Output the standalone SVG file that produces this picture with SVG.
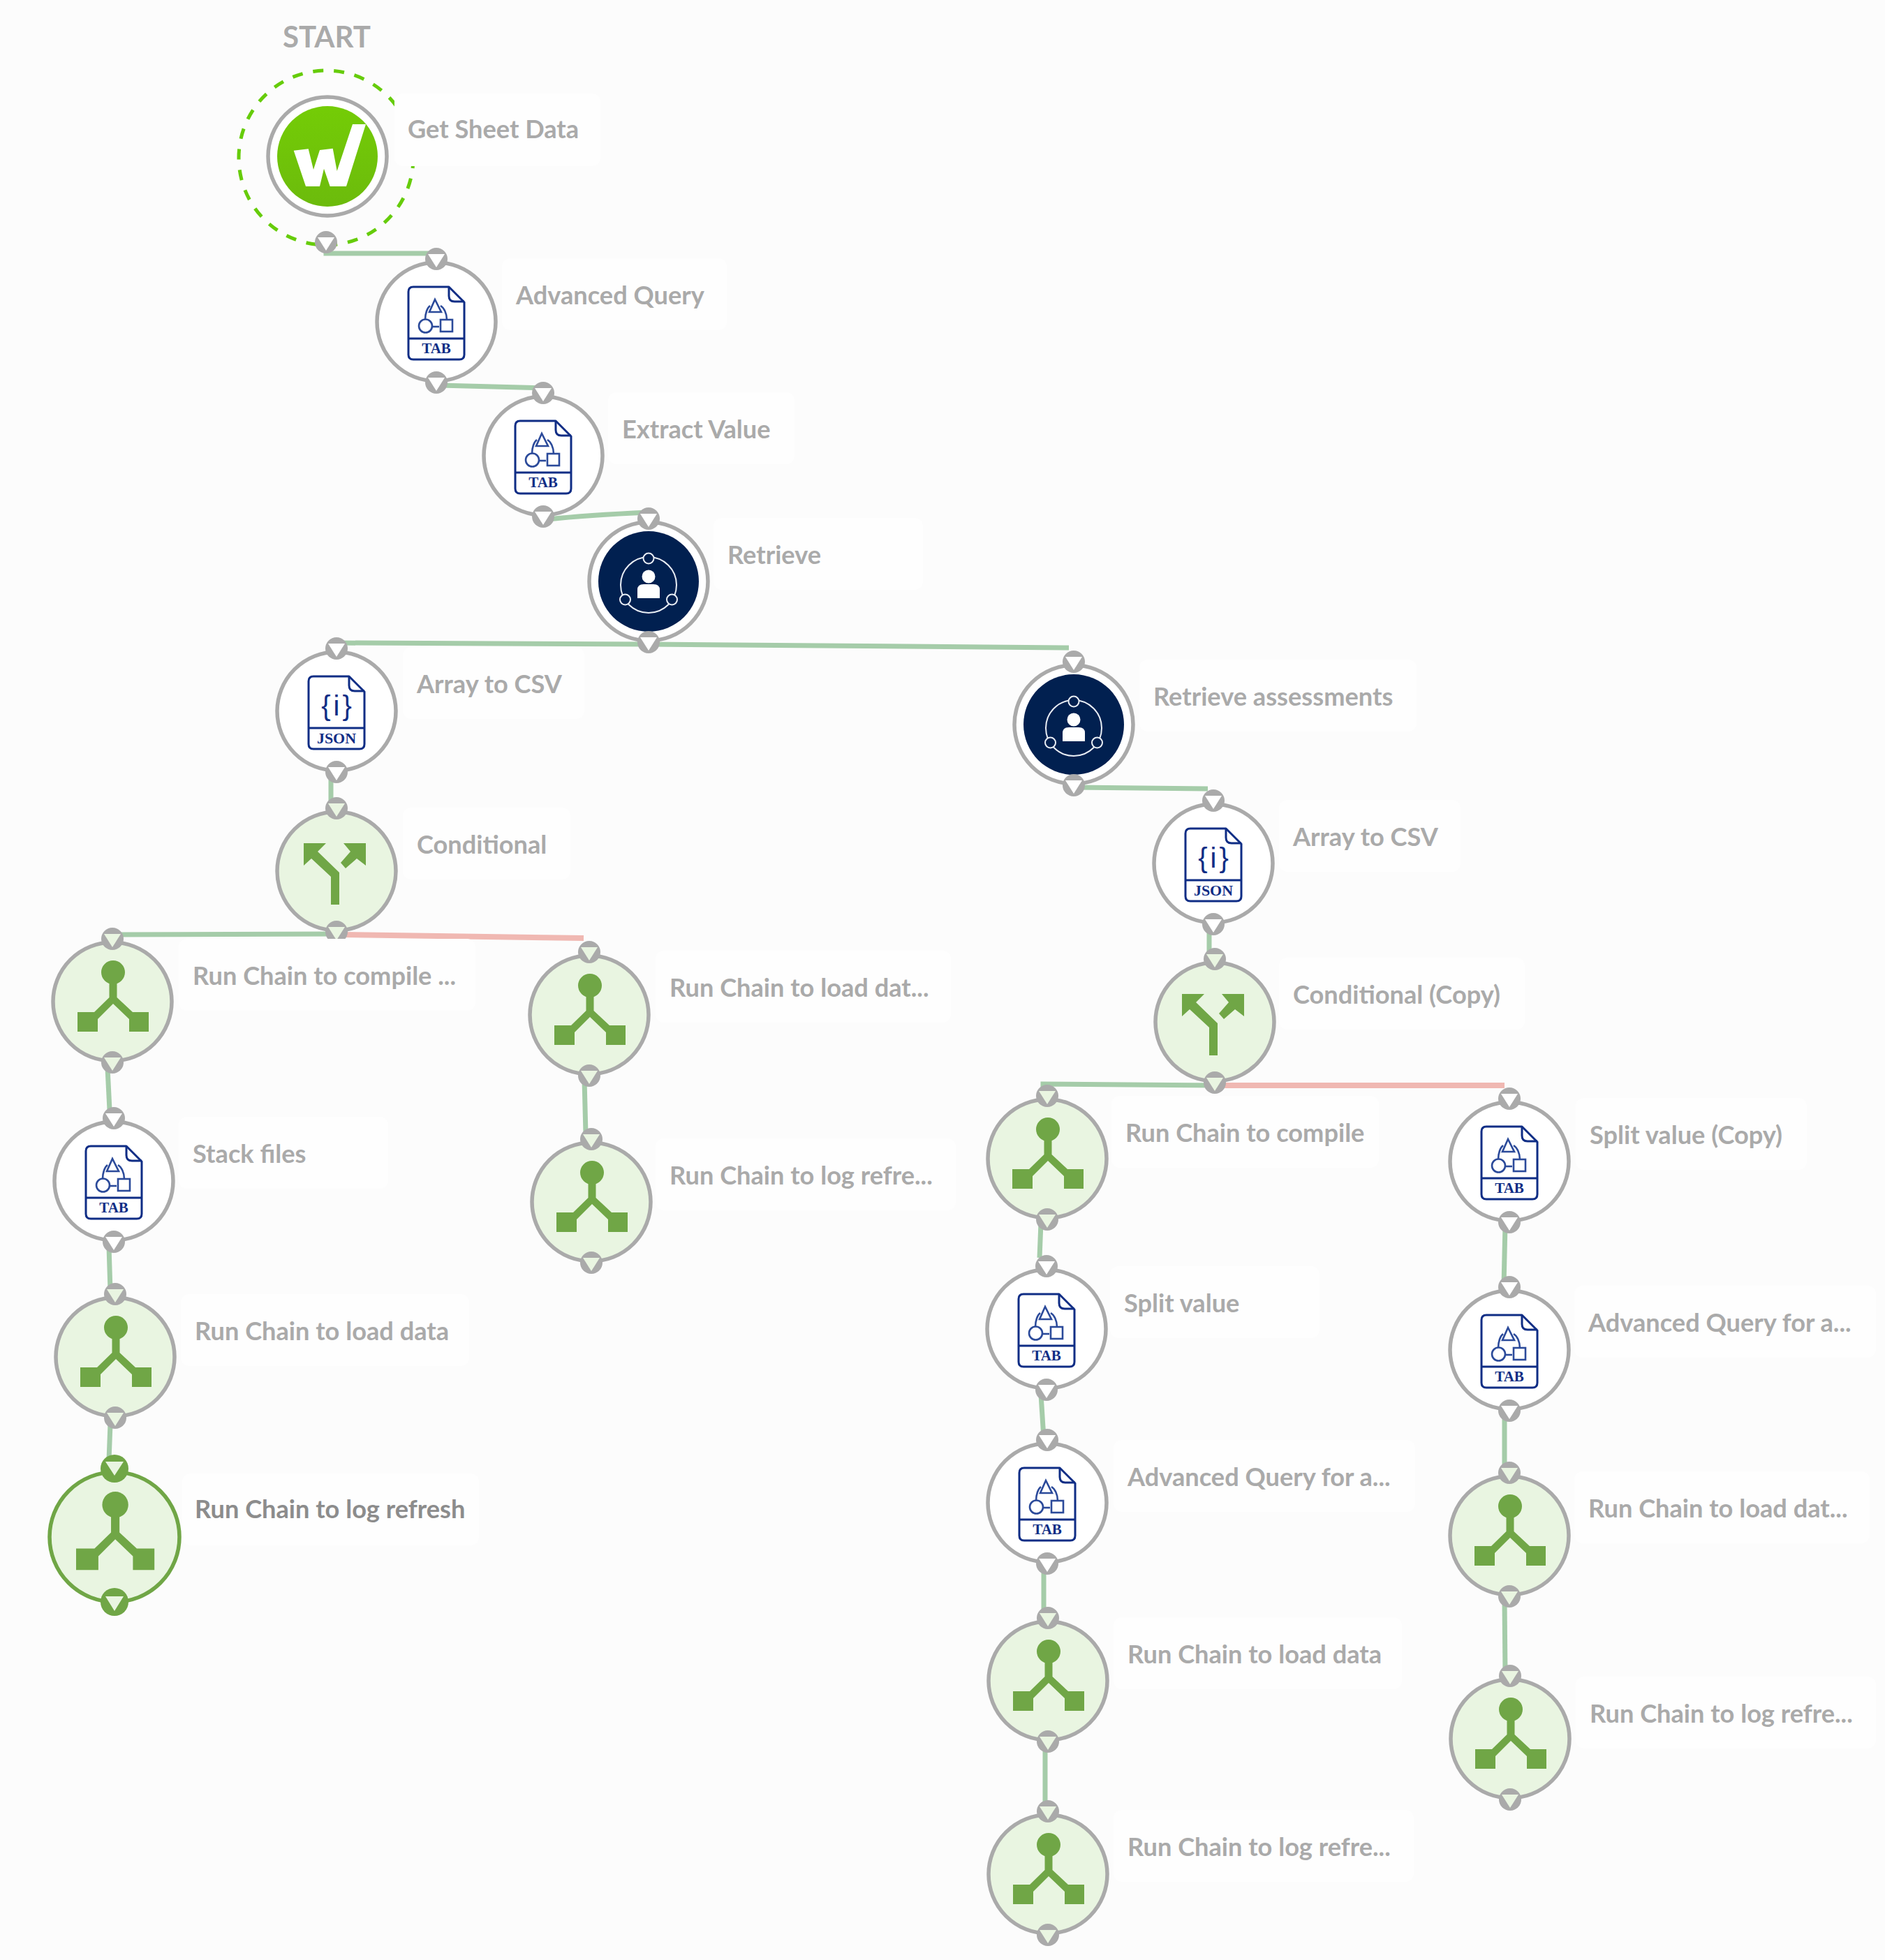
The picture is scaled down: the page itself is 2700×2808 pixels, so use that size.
<svg xmlns="http://www.w3.org/2000/svg" width="2700" height="2808" viewBox="0 0 2700 2808">
<style>
.ring{fill:#fff;stroke:#aaa;stroke-width:5.5}
.task{fill:#e9f5e1;stroke:#aaa;stroke-width:5.5}
.sel{fill:#e9f5e1;stroke:#70a646;stroke-width:5.5}
.lbl{font-family:Lato,"Liberation Sans",sans-serif;font-weight:700;font-size:36.2px;fill:#aaa}
.lb{fill:#fefefe}
.ft{font-family:"Liberation Serif",serif;font-weight:700;fill:#0f2d85;text-anchor:middle}
.ob{font-family:"Liberation Sans",sans-serif;font-weight:400;fill:#0f2d85;text-anchor:middle;letter-spacing:4px}
.ok{fill:none;stroke:#a5cca9;stroke-width:7}
.no{fill:none;stroke:#f0b8b2;stroke-width:8}
.pt{fill:#aaa}
.tw{fill:#fff}.tg{fill:#e9f5e1}
.doc{fill:none;stroke:#0f2d85;stroke-width:3;stroke-linejoin:round}
.thin{fill:none;stroke:#2b4a9a;stroke-width:2.6}
</style>
<defs>
<g id="doc">
<path class="doc" d="M-40,-43Q-40,-50 -33,-50L18,-50L40,-28L40,47Q40,54 33,54L-33,54Q-40,54 -40,47Z"/>
<path class="doc" d="M18,-50L18,-37Q18,-29 26,-29L40,-29"/>
<path class="doc" d="M-40,24L40,24"/>
</g>
<g id="tabglyph">
<path class="thin" d="M-2,-32L-10,-14L7,-14Z"/>
<path class="thin" d="M-16,-3C-16,-12 -13,-20 -9,-23M6,-23C11,-20 15,-12 15,-3"/>
<circle class="thin" cx="-15.500" cy="6" r="9.500"/>
<path class="thin" d="M-5,7L4,7"/>
<rect class="thin" x="6" y="-3" width="17" height="17"/>
</g>
<path id="chain" fill="#70a646" d="M-5.500,-30L-5.500,-6L-27,15L-51,15L-51,43L-22,43L-22,25L0,3L23,25L23,43L51,43L51,15L28,15L5.500,-6L5.500,-30Z"/>
<g id="chainfull"><g transform="translate(1,0)"><circle cx="0" cy="-42" r="17" fill="#70a646"/><use href="#chain"/></g></g>
<g id="cond" fill="#70a646">
<path d="M-47,-40L-15,-40L-27,-28L4,2L4,48L-8,48L-8,8L-36,-18L-47,-8Z"/>
<path d="M42,-40L10,-40L20,-28L6,-12L13,-4L29,-18L42,-8Z"/>
</g>
<g id="person">
<circle cx="0" cy="-7" r="9.500" fill="#fff"/>
<path fill="#fff" d="M-16,24L-16,12Q-16,4 -7,4L7,4Q16,4 16,12L16,24Z"/>
<circle cx="0" cy="5" r="40" fill="none" stroke="#e8edf4" stroke-width="2"/>
<g fill="#012050" stroke="#e8edf4" stroke-width="2"><circle cx="0" cy="-33" r="7.500"/><circle cx="-33.500" cy="26" r="7.500"/><circle cx="33.500" cy="26" r="7.500"/></g>
</g>
<path id="tri" d="M-12,-7L12,-7L0,12Z"/>
<g id="pw"><circle r="16" class="pt"/><use href="#tri" class="tw"/></g>
<g id="pg"><circle r="16" class="pt"/><use href="#tri" class="tg"/></g>
<linearGradient id="wg" x1="0" y1="0" x2="0" y2="1"><stop offset="0" stop-color="#74cc06"/><stop offset="1" stop-color="#6cbb0c"/></linearGradient>
</defs>
<rect width="2700" height="2808" fill="#fcfcfc"/>

<g id="connectors">
<path class="ok" d="M467,350L467,363L625,363"/>
<path class="ok" d="M630,552L778,556"/>
<path class="ok" d="M785,744Q840,738 929,734"/>
<path class="ok" d="M482,921L929,923L1531,928"/>
<path class="ok" d="M474,1110L474,1155"/>
<path class="ok" d="M482,1338L162,1339"/>
<path class="no" d="M490,1339L836,1344"/>
<path class="ok" d="M1538,1128L1730,1130"/>
<path class="ok" d="M1732,1330L1732,1372"/>
<path class="ok" d="M1741,1555L1494,1553L1494,1566"/>
<path class="no" d="M1741,1555L2155,1555"/>
<path class="ok" d="M154,1530L157,1590"/>
<path class="ok" d="M156,1785L158,1850"/>
<path class="ok" d="M158,2040L156,2092"/>
<path class="ok" d="M837,1546L839,1625"/>
<path class="ok" d="M1491,1752L1489,1802"/>
<path class="ok" d="M1491,1998L1495,2060"/>
<path class="ok" d="M1495,2245L1495,2318"/>
<path class="ok" d="M1497,2502L1497,2592"/>
<path class="ok" d="M2156,1755L2154,1842"/>
<path class="ok" d="M2155,2026L2155,2106"/>
<path class="ok" d="M2155,2292L2156,2398"/>
</g>

<text id="start" x="405" y="68" font-family="Lato,'Liberation Sans',sans-serif" font-weight="700" font-size="42" fill="#aaa">START</text>

<g id="n-get-sheet-data">
<circle cx="467" cy="226" r="125" fill="none" stroke="#66cc0a" stroke-width="5" stroke-dasharray="15 15"/>
<rect class="lb" x="565" y="134" width="295" height="104" rx="12"/>
<circle cx="469" cy="224" r="85" fill="#fff" stroke="#aaa" stroke-width="5.500"/>
<circle cx="469" cy="224" r="72" fill="url(#wg)"/>
<path fill="#fff" d="M420.700,215.700L441.700,213.300L449,243L458,215L476.700,212.700L482.700,245L505,178L524,178L496,267L472.700,267L464,241.700L458,267L438,267Z"/>
<use href="#pw" x="467" y="347"/>
<text class="lbl" x="584" y="198">Get Sheet Data</text>
</g>

<g id="n-advanced-query" transform="translate(625,461)"><circle class="ring" r="85"/><use href="#doc"/><use href="#tabglyph"/><text class="ft" y="45" font-size="21">TAB</text><use href="#pw" y="-90"/><use href="#pw" y="87"/><rect class="lb" x="94" y="-91" width="322" height="103" rx="12"/><text class="lbl" x="114" y="-25">Advanced Query</text></g>
<g id="n-extract-value" transform="translate(778,653)"><circle class="ring" r="85"/><use href="#doc"/><use href="#tabglyph"/><text class="ft" y="45" font-size="21">TAB</text><use href="#pw" y="-90"/><use href="#pw" y="87"/><rect class="lb" x="93" y="-91" width="267" height="103" rx="12"/><text class="lbl" x="113" y="-25">Extract Value</text></g>
<g id="n-retrieve" transform="translate(929,833)"><circle class="ring" r="85"/><circle r="72" fill="#012050"/><use href="#person"/><use href="#pw" y="-90"/><use href="#pw" y="87"/><rect class="lb" x="93" y="-91" width="300" height="103" rx="12"/><text class="lbl" x="113" y="-25">Retrieve</text></g>
<g id="n-array-csv-1" transform="translate(482,1019)"><circle class="ring" r="85"/><use href="#doc"/><text class="ob" x="2" y="6" font-size="40">{i}</text><text class="ft" y="46" font-size="22">JSON</text><use href="#pw" y="-90"/><use href="#pw" y="87"/><rect class="lb" x="95" y="-92" width="260" height="103" rx="12"/><text class="lbl" x="115" y="-26">Array to CSV</text></g>
<g id="n-conditional" transform="translate(482,1248)"><circle class="task" r="85"/><use href="#cond"/><use href="#pg" y="-90"/><use href="#pg" y="87"/><rect class="lb" x="95" y="-91" width="240" height="103" rx="12"/><text class="lbl" x="115" y="-25">Conditional</text></g>
<g id="n-retrieve-assessments" transform="translate(1538,1038)"><circle class="ring" r="85"/><circle r="72" fill="#012050"/><use href="#person"/><use href="#pw" y="-90"/><use href="#pw" y="87"/><rect class="lb" x="94" y="-93" width="397" height="103" rx="12"/><text class="lbl" x="114" y="-27">Retrieve assessments</text></g>
<g id="n-array-csv-2" transform="translate(1738,1237)"><circle class="ring" r="85"/><use href="#doc"/><text class="ob" x="2" y="6" font-size="40">{i}</text><text class="ft" y="46" font-size="22">JSON</text><use href="#pw" y="-90"/><use href="#pw" y="87"/><rect class="lb" x="94" y="-91" width="260" height="103" rx="12"/><text class="lbl" x="114" y="-25">Array to CSV</text></g>
<g id="n-conditional-copy" transform="translate(1740,1464)"><circle class="task" r="85"/><use href="#cond"/><use href="#pg" y="-90"/><use href="#pg" y="87"/><rect class="lb" x="92" y="-92" width="352" height="103" rx="12"/><text class="lbl" x="112" y="-26">Conditional (Copy)</text></g>

<g id="n-compile-1" transform="translate(161,1435)"><circle class="task" r="85"/><use href="#chainfull"/><use href="#pg" y="-90"/><use href="#pg" y="87"/><rect class="lb" x="95" y="-90" width="425" height="103" rx="12"/><text class="lbl" x="115" y="-24">Run Chain to compile ...</text></g>
<g id="n-stack-files" transform="translate(163,1692)"><circle class="ring" r="85"/><use href="#doc"/><use href="#tabglyph"/><text class="ft" y="45" font-size="21">TAB</text><use href="#pw" y="-90"/><use href="#pw" y="87"/><rect class="lb" x="93" y="-92" width="300" height="103" rx="12"/><text class="lbl" x="113" y="-26">Stack files</text></g>
<g id="n-load-1" transform="translate(165,1944)"><circle class="task" r="85"/><use href="#chainfull"/><use href="#pg" y="-90"/><use href="#pg" y="87"/><rect class="lb" x="94" y="-90" width="413" height="103" rx="12"/><text class="lbl" x="114" y="-24">Run Chain to load data</text></g>
<g id="n-log-refresh" transform="translate(164,2202)"><circle class="sel" r="93"/><g transform="scale(1.1)"><use href="#chainfull"/></g><g fill="#70a646"><ellipse cy="-98" rx="20" ry="20"/><ellipse cy="93" rx="20" ry="20"/></g><path fill="#e9f5e1" d="M-13,-108L13,-108L0,-88ZM-13,85L13,85L0,106Z"/><rect class="lb" x="97" y="-91" width="425" height="103" rx="12"/><text class="lbl" x="115" y="-27" style="fill:#8c8c8c">Run Chain to log refresh</text></g>
<g id="n-load-mid" transform="translate(844,1454)"><circle class="task" r="85"/><use href="#chainfull"/><use href="#pg" y="-90"/><use href="#pg" y="87"/><rect class="lb" x="95" y="-92" width="423" height="103" rx="12"/><text class="lbl" x="115" y="-26">Run Chain to load dat...</text></g>
<g id="n-log-mid" transform="translate(847,1722)"><circle class="task" r="85"/><use href="#chainfull"/><use href="#pg" y="-90"/><use href="#pg" y="87"/><rect class="lb" x="92" y="-91" width="430" height="103" rx="12"/><text class="lbl" x="112" y="-25">Run Chain to log refre...</text></g>

<g id="n-compile-2" transform="translate(1500,1660)"><circle class="task" r="85"/><use href="#chainfull"/><use href="#pg" y="-90"/><use href="#pg" y="87"/><rect class="lb" x="92" y="-90" width="383" height="103" rx="12"/><text class="lbl" x="112" y="-24">Run Chain to compile</text></g>
<g id="n-split-value" transform="translate(1499,1904)"><circle class="ring" r="85"/><use href="#doc"/><use href="#tabglyph"/><text class="ft" y="45" font-size="21">TAB</text><use href="#pw" y="-90"/><use href="#pw" y="87"/><rect class="lb" x="91" y="-90" width="300" height="103" rx="12"/><text class="lbl" x="111" y="-24">Split value</text></g>
<g id="n-aq-2" transform="translate(1500,2153)"><circle class="ring" r="85"/><use href="#doc"/><use href="#tabglyph"/><text class="ft" y="45" font-size="21">TAB</text><use href="#pw" y="-90"/><use href="#pw" y="87"/><rect class="lb" x="95" y="-90" width="432" height="103" rx="12"/><text class="lbl" x="115" y="-24">Advanced Query for a...</text></g>
<g id="n-load-2" transform="translate(1501,2408)"><circle class="task" r="85"/><use href="#chainfull"/><use href="#pg" y="-90"/><use href="#pg" y="87"/><rect class="lb" x="94" y="-91" width="413" height="103" rx="12"/><text class="lbl" x="114" y="-25">Run Chain to load data</text></g>
<g id="n-log-2" transform="translate(1501,2685)"><circle class="task" r="85"/><use href="#chainfull"/><use href="#pg" y="-90"/><use href="#pg" y="87"/><rect class="lb" x="94" y="-92" width="430" height="103" rx="12"/><text class="lbl" x="114" y="-26">Run Chain to log refre...</text></g>
<g id="n-split-copy" transform="translate(2162,1664)"><circle class="ring" r="85"/><use href="#doc"/><use href="#tabglyph"/><text class="ft" y="45" font-size="21">TAB</text><use href="#pw" y="-90"/><use href="#pw" y="87"/><rect class="lb" x="95" y="-91" width="331" height="103" rx="12"/><text class="lbl" x="115" y="-25">Split value (Copy)</text></g>
<g id="n-aq-3" transform="translate(2162,1934)"><circle class="ring" r="85"/><use href="#doc"/><use href="#tabglyph"/><text class="ft" y="45" font-size="21">TAB</text><use href="#pw" y="-90"/><use href="#pw" y="87"/><rect class="lb" x="93" y="-92" width="432" height="103" rx="12"/><text class="lbl" x="113" y="-26">Advanced Query for a...</text></g>
<g id="n-load-3" transform="translate(2162,2200)"><circle class="task" r="85"/><use href="#chainfull"/><use href="#pg" y="-90"/><use href="#pg" y="87"/><rect class="lb" x="93" y="-92" width="423" height="103" rx="12"/><text class="lbl" x="113" y="-26">Run Chain to load dat...</text></g>
<g id="n-log-3" transform="translate(2163,2491)"><circle class="task" r="85"/><use href="#chainfull"/><use href="#pg" y="-90"/><use href="#pg" y="87"/><rect class="lb" x="94" y="-89" width="430" height="103" rx="12"/><text class="lbl" x="114" y="-23">Run Chain to log refre...</text></g>
</svg>
